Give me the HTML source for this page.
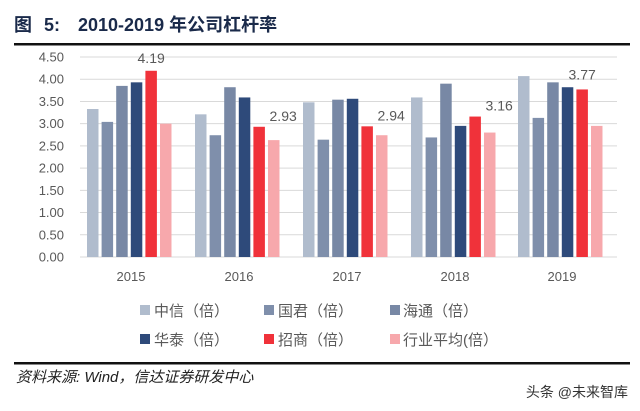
<!DOCTYPE html>
<html><head><meta charset="utf-8"><style>
body{margin:0;background:#fff;width:640px;height:406px;overflow:hidden;font-family:"Liberation Sans","Noto Sans CJK SC",sans-serif}
</style></head><body>
<svg width="640" height="406" xmlns="http://www.w3.org/2000/svg" font-family="Liberation Sans, Noto Sans CJK SC, sans-serif">
<text x="14" y="31" font-size="18" font-weight="bold" fill="#1a2a4a">图</text>
<text x="44" y="31" font-size="18" font-weight="bold" fill="#1a2a4a">5:</text>
<text x="78" y="31" font-size="18" font-weight="bold" fill="#1a2a4a">2010-2019 年公司杠杆率</text>
<rect x="14" y="43" width="616" height="2.5" fill="#111"/>
<g id="grid" stroke="#d9d9d9" stroke-width="1"></g>
<g id="ylab" font-size="13" fill="#595959" text-anchor="end"></g>
<g id="bars"></g>
<g id="xlab" font-size="13" fill="#595959" text-anchor="middle"></g>
<g font-size="15" fill="#595959">
<rect x="140" y="305" width="10" height="10" fill="#b0bccd"/><text x="154" y="316">中信（倍）</text>
<rect x="264" y="305" width="10" height="10" fill="#7f8fab"/><text x="278" y="316">国君（倍）</text>
<rect x="390" y="305" width="10" height="10" fill="#7888a5"/><text x="403" y="316">海通（倍）</text>
<rect x="140" y="334" width="10" height="10" fill="#2e4a7a"/><text x="154" y="345">华泰（倍）</text>
<rect x="264" y="334" width="10" height="10" fill="#f0323a"/><text x="278" y="345">招商（倍）</text>
<rect x="390" y="334" width="10" height="10" fill="#f7a8ac"/><text x="403" y="345">行业平均(倍）</text>
</g>
<rect x="14" y="362" width="616" height="2.5" fill="#111"/>
<text x="16" y="382" font-size="15" font-style="italic" fill="#222">资料来源: Wind，信达证券研发中心</text>
<text x="628" y="397" font-size="14" fill="#333" text-anchor="end">头条 @未来智库</text>
</svg>
<script>
var svg=document.querySelector('svg'),ns='http://www.w3.org/2000/svg';
function el(p,t,a,tx){var e=document.createElementNS(ns,t);for(var k in a)e.setAttribute(k,a[k]);if(tx)e.textContent=tx;document.getElementById(p).appendChild(e);}
var y0=257,s=200/4.5;
for(var i=0;i<=9;i++){var v=i*0.5,y=y0-v*s;el('grid','line',{x1:80,x2:617,y1:y,y2:y});el('ylab','text',{x:64,y:y+4.5},v.toFixed(2));}
var d=[[3.33,3.04,3.85,3.93,4.19,3.00],[3.21,2.74,3.82,3.59,2.93,2.63],[3.48,2.64,3.54,3.56,2.94,2.74],[3.59,2.69,3.90,2.95,3.16,2.80],[4.07,3.13,3.93,3.82,3.77,2.95]];
var c=['#b0bccd','#7f8fab','#7888a5','#2e4a7a','#f0323a','#f7a8ac'];
var cx=[131,239,347,455,562],yr=['2015','2016','2017','2018','2019'];
for(var g=0;g<5;g++){var st=cx[g]-44;for(var b=0;b<6;b++){var h=d[g][b]*s;el('bars','rect',{x:st+b*14.6,y:y0-h,width:11.5,height:h,fill:c[b]});}
var lx=st+4*14.6+5.75,ly=y0-d[g][4]*s;
if(g==0)el('xlab','text',{x:lx,y:ly-8,'font-size':14},d[g][4].toFixed(2));
else if(g==4)el('xlab','text',{x:lx,y:ly-10,'font-size':14},d[g][4].toFixed(2));
else el('xlab','text',{x:lx+24,y:ly-6,'font-size':14},d[g][4].toFixed(2));
el('xlab','text',{x:cx[g],y:281},yr[g]);}
</script>
</body></html>
